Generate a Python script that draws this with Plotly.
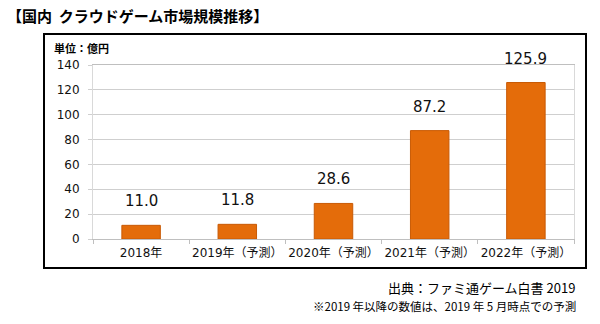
import plotly.graph_objects as go

# Domestic cloud gaming market size (unit: 100 million yen)
categories = ["2018年", "2019年（予測）", "2020年（予測）", "2021年（予測）", "2022年（予測）"]
values = [11.0, 11.8, 28.6, 87.2, 125.9]
y_ticks = [0, 20, 40, 60, 80, 100, 120, 140]

BAR_COLOR = "#E46C0A"
JP_FONT = "Noto Sans CJK JP"
NUM_FONT = "DejaVu Sans, Noto Sans CJK JP"

# plot-area geometry in pixels, used to place frame/annotations in paper units
W, H = 600, 324
L, R, T, B = 93, 26, 65, 85
PW, PH = W - L - R, H - T - B


def px_x(px):
    return (px - L) / PW


def px_y(py):
    return (H - B - py) / PH


fig = go.Figure()
fig.add_trace(go.Bar(
    x=categories,
    y=values,
    marker=dict(color=BAR_COLOR, line=dict(color="#C85A05", width=1)),
    width=0.4,
    hoverinfo="skip",
))

# value labels above each bar
for c, v in zip(categories, values):
    fig.add_annotation(
        x=c, y=v, text=f"{v:.1f}", showarrow=False,
        yanchor="bottom", yshift=13,
        font=dict(family=NUM_FONT, size=15, color="#111111"),
    )

annotations_paper = [
    dict(x=px_x(5), y=px_y(15), text="<b>【国内  クラウドゲーム市場規模推移】</b>",
         xanchor="left", yanchor="middle",
         font=dict(family=JP_FONT, size=15, color="#000000")),
    dict(x=px_x(52), y=px_y(48), text="<b>単位：億円</b>",
         xanchor="left", yanchor="middle",
         font=dict(family=JP_FONT, size=11, color="#000000")),
    dict(x=px_x(577), y=px_y(287), text="出典：ファミ通ゲーム白書 2019",
         xanchor="right", yanchor="middle",
         font=dict(family=JP_FONT, size=13, color="#000000")),
    dict(x=px_x(578), y=px_y(306), text="※2019 年以降の数値は、2019 年 5 月時点での予測",
         xanchor="right", yanchor="middle",
         font=dict(family=JP_FONT, size=11.5, color="#000000")),
]
for a in annotations_paper:
    fig.add_annotation(xref="paper", yref="paper", showarrow=False, **a)

# outer black frame around the chart
fig.add_shape(type="rect", xref="paper", yref="paper",
              x0=px_x(44), x1=px_x(586), y0=px_y(268), y1=px_y(34),
              line=dict(color="#000000", width=2), layer="above")

fig.update_layout(
    width=W, height=H,
    margin=dict(l=L, r=R, t=T, b=B, autoexpand=False),
    paper_bgcolor="white", plot_bgcolor="white",
    showlegend=False,
    bargap=0.6,
    font=dict(family=NUM_FONT, color="#111111"),
)
fig.update_xaxes(
    type="category",
    showline=True, linecolor="#BFBFBF", linewidth=1, mirror=True,
    ticks="outside", tickson="boundaries", ticklen=4, tickcolor="#BFBFBF",
    tickangle=0, automargin=False, ticklabelstandoff=3,
    tickfont=dict(family=NUM_FONT, size=12, color="#111111"),
    showgrid=False,
)
fig.update_yaxes(
    range=[0, 140], tickvals=y_ticks,
    showline=True, linecolor="#D9D9D9", linewidth=1, mirror=True,
    showgrid=True, gridcolor="#CFCFCF", gridwidth=1,
    ticks="outside", ticklen=4, tickcolor="#CFCFCF",
    ticklabelstandoff=6, automargin=False,
    tickfont=dict(family=NUM_FONT, size=12, color="#111111"),
    zeroline=False,
)

fig.write_html("out.html")
